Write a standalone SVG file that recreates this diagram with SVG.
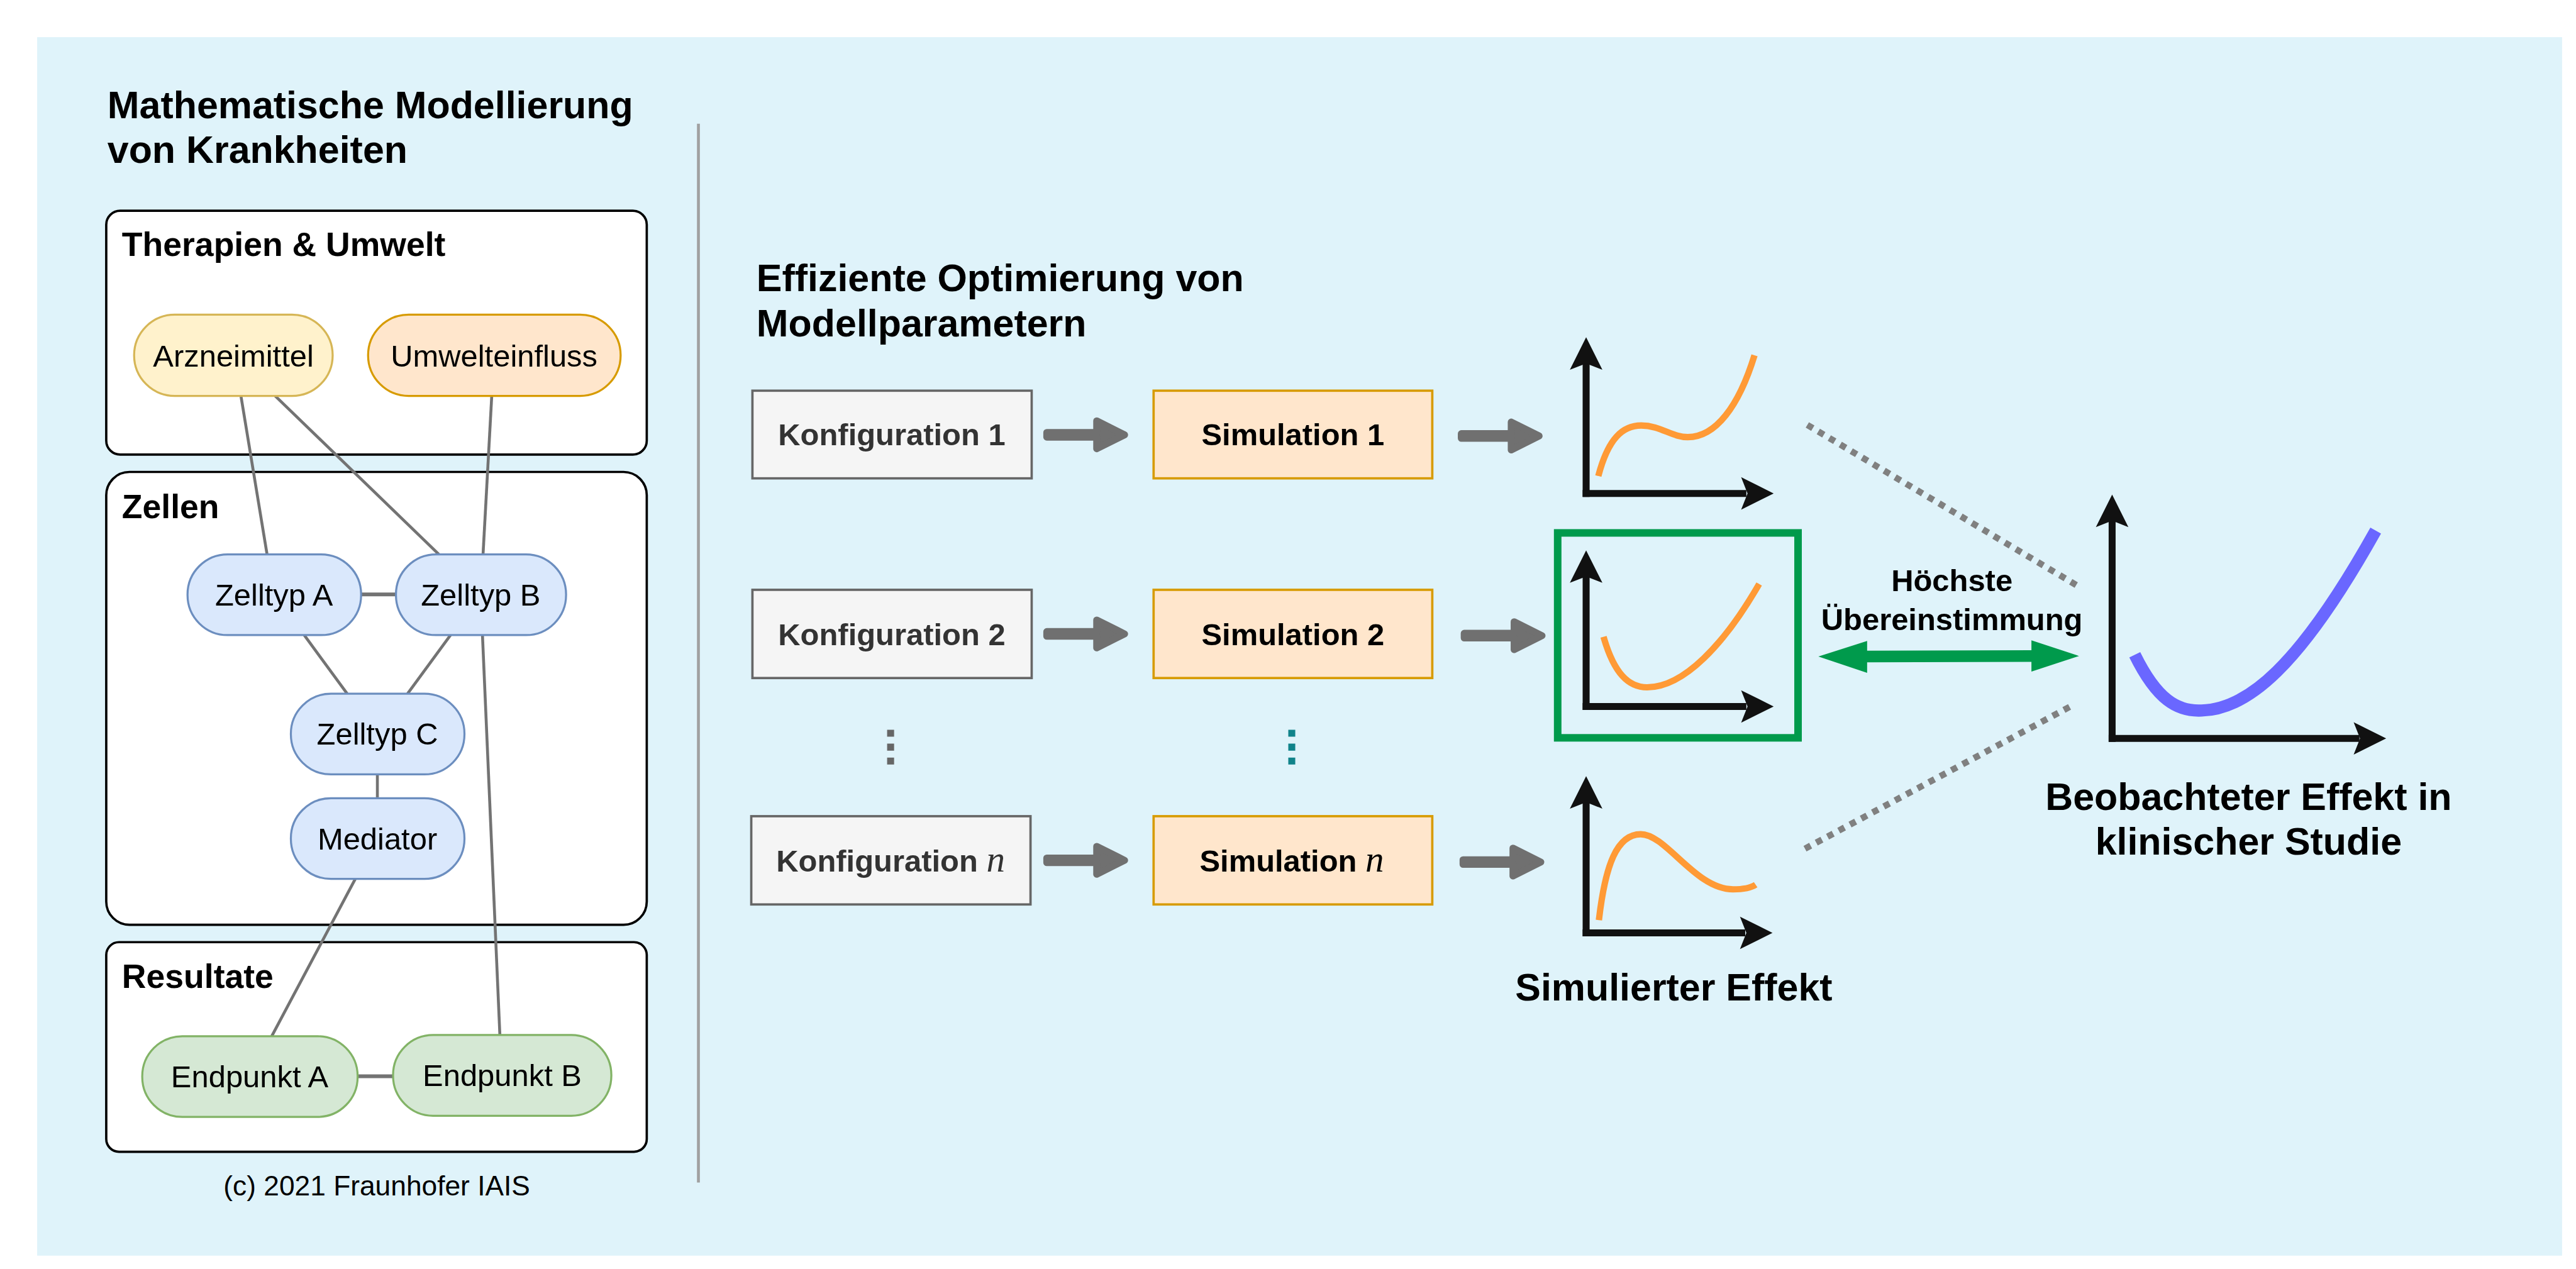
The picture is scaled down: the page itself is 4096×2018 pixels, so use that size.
<svg xmlns="http://www.w3.org/2000/svg" width="4096" height="2018" viewBox="0 0 4096 2018">
<style>
text{font-family:"Liberation Sans",Arial,sans-serif;fill:#000}
.title{font-size:66px;font-weight:bold}
.sec{font-size:58px;font-weight:bold}
.node{font-size:53px;text-anchor:middle}
.box{font-size:53px;font-weight:bold;text-anchor:middle}
.mid{text-anchor:middle}
.secbox{fill:#fff;stroke:#000;stroke-width:4}
.yel{fill:#fff2cc;stroke:#d6b656;stroke-width:3.5}
.ora{fill:#ffe6cc;stroke:#d79b00;stroke-width:3.5}
.blu{fill:#dae8fc;stroke:#6c8ebf;stroke-width:3.5}
.grn{fill:#d5e8d4;stroke:#82b366;stroke-width:3.5}
.cfg{fill:#f5f5f5;stroke:#666;stroke-width:4}
.sim{fill:#ffe6cc;stroke:#d79b00;stroke-width:4}
.edge{stroke:#737373;stroke-width:5;fill:none}
.edgeh{stroke:#737373;stroke-width:6.5;fill:none}
.axis{stroke:#111;stroke-width:12;fill:none}
.curve{stroke:#ff9a36;stroke-width:11;fill:none}
.dots{stroke:#808080;stroke-width:11;stroke-dasharray:11 11;fill:none}
.italn{font-family:"Liberation Serif","Times New Roman",serif;font-style:italic;font-weight:normal;font-size:64px}
</style>
<defs>
<path id="garrow" d="M6 -4 L92 -4 L92 -24 L140 0 L92 24 L92 4 L6 4 Z" fill="#707070" stroke="#707070" stroke-width="12" stroke-linejoin="round"/>
<path id="ahead" d="M0 0 L-56 -28 L-45 0 L-56 28 Z" fill="#111"/>
</defs>
<g transform="scale(0.92315)">
<rect x="64" y="64" width="4349" height="2099" fill="#dff3fa"/>
<line x1="1203" y1="213" x2="1203" y2="2037" stroke="#a0a0a0" stroke-width="5"/>

<g id="title-left">
<text class="title" x="185" y="204">Mathematische Modellierung</text>
<text class="title" x="185" y="281">von Krankheiten</text>
</g>

<g id="group-therapien">
<rect class="secbox" x="183" y="363" width="931" height="420" rx="24"/>
<text class="sec" x="210" y="441">Therapien &amp; Umwelt</text>
</g>
<g id="group-zellen">
<rect class="secbox" x="183" y="813" width="931" height="780" rx="40"/>
<text class="sec" x="210" y="893">Zellen</text>
</g>
<g id="group-resultate">
<rect class="secbox" x="183" y="1623" width="931" height="361" rx="22"/>
<text class="sec" x="210" y="1702">Resultate</text>
</g>

<g id="connectors">
<line class="edge" x1="415" y1="682" x2="460" y2="955"/>
<line class="edge" x1="474" y1="682" x2="756" y2="955"/>
<line class="edge" x1="847" y1="682" x2="832" y2="955"/>
<line class="edgeh" x1="622" y1="1024" x2="682" y2="1024"/>
<line class="edge" x1="524" y1="1094" x2="598" y2="1195"/>
<line class="edge" x1="776" y1="1094" x2="702" y2="1195"/>
<line class="edge" x1="831" y1="1094" x2="861" y2="1783"/>
<line class="edge" x1="650" y1="1334" x2="650" y2="1375"/>
<line class="edge" x1="612" y1="1514" x2="468" y2="1785"/>
<line class="edgeh" x1="616" y1="1854" x2="677" y2="1854"/>
</g>

<g id="node-arzneimittel">
<rect class="yel" x="231" y="542" width="342" height="140" rx="70"/>
<text class="node" x="402" y="631">Arzneimittel</text>
</g>
<g id="node-umwelteinfluss">
<rect class="ora" x="634" y="542" width="435" height="140" rx="70"/>
<text class="node" x="851" y="631">Umwelteinfluss</text>
</g>
<g id="node-zelltyp-a">
<rect class="blu" x="323" y="955" width="299" height="139" rx="69"/>
<text class="node" x="472" y="1043">Zelltyp A</text>
</g>
<g id="node-zelltyp-b">
<rect class="blu" x="682" y="955" width="293" height="139" rx="69"/>
<text class="node" x="828" y="1043">Zelltyp B</text>
</g>
<g id="node-zelltyp-c">
<rect class="blu" x="501" y="1195" width="299" height="139" rx="69"/>
<text class="node" x="650" y="1283">Zelltyp C</text>
</g>
<g id="node-mediator">
<rect class="blu" x="501" y="1375" width="299" height="139" rx="69"/>
<text class="node" x="650" y="1463">Mediator</text>
</g>
<g id="node-endpunkt-a">
<rect class="grn" x="245" y="1785" width="371" height="139" rx="69"/>
<text class="node" x="430" y="1873">Endpunkt A</text>
</g>
<g id="node-endpunkt-b">
<rect class="grn" x="677" y="1783" width="376" height="139" rx="69"/>
<text class="node" x="865" y="1871">Endpunkt B</text>
</g>
<text class="mid" x="649" y="2059" font-size="48">(c) 2021 Fraunhofer IAIS</text>

<g id="title-right">
<text class="title" x="1303" y="502">Effiziente Optimierung von</text>
<text class="title" x="1303" y="580">Modellparametern</text>
</g>

<g id="node-konfig-1">
<rect class="cfg" x="1296" y="673" width="481" height="151"/>
<text class="box" x="1536" y="767" style="fill:#333">Konfiguration 1</text>
</g>
<g id="node-konfig-2">
<rect class="cfg" x="1296" y="1016" width="481" height="152"/>
<text class="box" x="1536" y="1111" style="fill:#333">Konfiguration 2</text>
</g>
<g id="node-konfig-n">
<rect class="cfg" x="1294" y="1406" width="481" height="152"/>
<text class="box" x="1534" y="1501" style="fill:#333">Konfiguration <tspan class="italn" style="fill:#333">n</tspan></text>
</g>
<g id="node-sim-1">
<rect class="sim" x="1987" y="673" width="480" height="151"/>
<text class="box" x="2227" y="767">Simulation 1</text>
</g>
<g id="node-sim-2">
<rect class="sim" x="1987" y="1016" width="480" height="152"/>
<text class="box" x="2227" y="1111">Simulation 2</text>
</g>
<g id="node-sim-n">
<rect class="sim" x="1987" y="1406" width="480" height="152"/>
<text class="box" x="2225" y="1501">Simulation <tspan class="italn">n</tspan></text>
</g>

<g id="ellipsis">
<line x1="1534" y1="1257" x2="1534" y2="1317" stroke="#666" stroke-width="12" stroke-dasharray="12 12"/>
<line x1="2225" y1="1257" x2="2225" y2="1317" stroke="#10838a" stroke-width="12" stroke-dasharray="12 12"/>
</g>

<g id="flow-arrows">
<use href="#garrow" transform="translate(1797,749)"/>
<use href="#garrow" transform="translate(2511,751)"/>
<use href="#garrow" transform="translate(1797,1092)"/>
<use href="#garrow" transform="translate(2516,1095)"/>
<use href="#garrow" transform="translate(1797,1482)"/>
<use href="#garrow" transform="translate(2514,1485)"/>
</g>

<g id="plot-1">
<line class="axis" x1="2732" y1="620" x2="2732" y2="856"/>
<line class="axis" x1="2726" y1="850" x2="3008" y2="850"/>
<use href="#ahead" transform="translate(2732,581) rotate(-90)"/>
<use href="#ahead" transform="translate(3055,850)"/>
<path class="curve" d="M2753 820 C2770 755,2795 733,2827 733 C2860 733,2880 753,2907 753 C2955 753,2995 700,3022 612"/>
</g>
<g id="plot-2">
<rect x="2683" y="918" width="414" height="353" fill="none" stroke="#009a4c" stroke-width="13"/>
<line class="axis" x1="2732" y1="987" x2="2732" y2="1223"/>
<line class="axis" x1="2726" y1="1217" x2="3008" y2="1217"/>
<use href="#ahead" transform="translate(2732,948) rotate(-90)"/>
<use href="#ahead" transform="translate(3055,1217)"/>
<path class="curve" d="M2762 1097 C2780 1160,2805 1184,2837 1184 C2900 1184,2970 1110,3030 1006"/>
</g>
<g id="plot-3">
<line class="axis" x1="2732" y1="1376" x2="2732" y2="1613"/>
<line class="axis" x1="2726" y1="1607" x2="3006" y2="1607"/>
<use href="#ahead" transform="translate(2732,1337) rotate(-90)"/>
<use href="#ahead" transform="translate(3053,1607)"/>
<path class="curve" d="M2754 1585 C2765 1490,2785 1437,2826 1437 C2870 1437,2920 1532,2985 1532 C3000 1532,3015 1530,3024 1524"/>
</g>
<text class="title mid" x="2883" y="1723">Simulierter Effekt</text>

<g id="match-connectors">
<line class="dots" x1="3113" y1="732" x2="3580" y2="1010"/>
<line class="dots" x1="3109" y1="1462" x2="3566" y2="1217"/>
<path d="M3132 1131 L3216 1104 L3216 1121 L3499 1120 L3499 1103 L3581 1130 L3499 1157 L3499 1140 L3216 1141 L3216 1159 Z" fill="#009a4c"/>
</g>
<text class="box" x="3362" y="1018">Höchste</text>
<text class="box" x="3362" y="1085">Übereinstimmung</text>

<g id="plot-observed">
<line class="axis" x1="3638" y1="892" x2="3638" y2="1278"/>
<line class="axis" x1="3632" y1="1272" x2="4064" y2="1272"/>
<use href="#ahead" transform="translate(3638,852) rotate(-90)"/>
<use href="#ahead" transform="translate(4110,1272)"/>
<path d="M3677 1128 C3715 1205,3750 1226,3792 1224 C3870 1222,3960 1150,4092 914" fill="none" stroke="#6a67ff" stroke-width="21"/>
</g>
<text class="title mid" x="3873" y="1395">Beobachteter Effekt in</text>
<text class="title mid" x="3873" y="1472">klinischer Studie</text>
</g>
</svg>
